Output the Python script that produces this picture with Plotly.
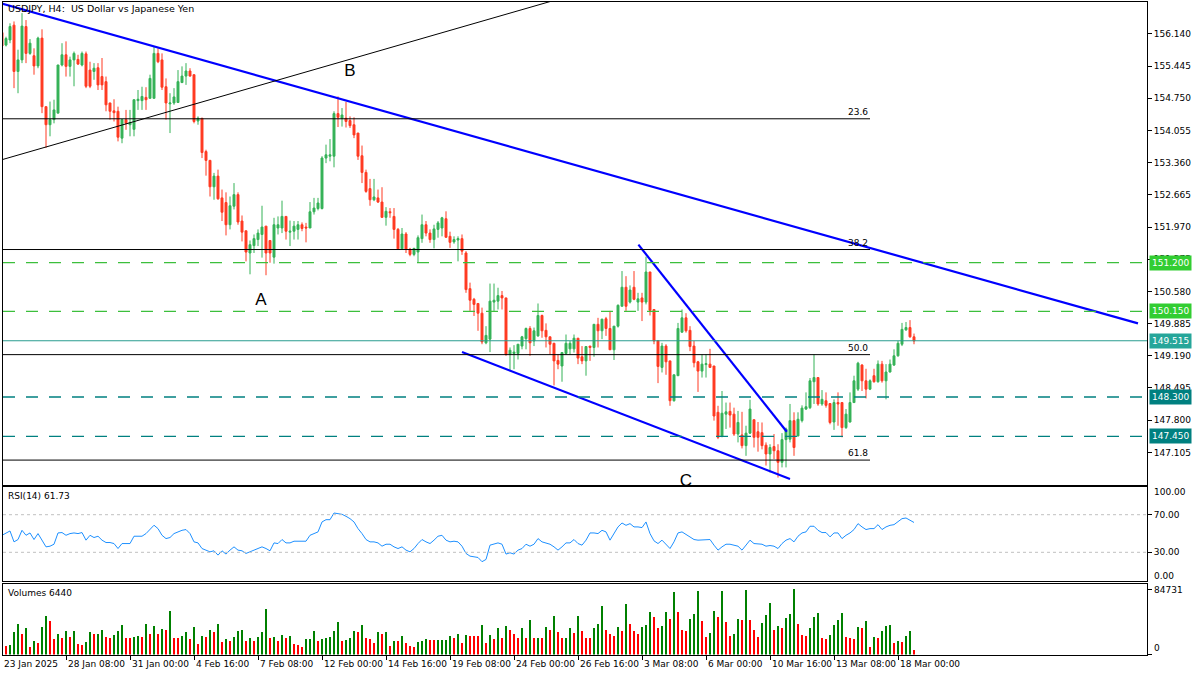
import plotly.graph_objects as go

# ---------------- DATA ----------------
x_tick_labels = ["23 Jan 2025", "28 Jan 08:00", "31 Jan 00:00", "4 Feb 16:00", "7 Feb 08:00",
                 "12 Feb 00:00", "14 Feb 16:00", "19 Feb 08:00", "24 Feb 00:00", "26 Feb 16:00",
                 "3 Mar 08:00", "6 Mar 00:00", "10 Mar 16:00", "13 Mar 08:00", "18 Mar 00:00"]
x_tick_bars = [0, 16, 32, 48, 64, 80, 96, 112, 128, 144, 160, 176, 192, 208, 224]

opens = [
    156.17, 155.90, 156.01, 156.33, 155.33, 155.58, 156.30, 155.72, 155.67, 155.45,
    156.05, 154.57, 154.18, 154.29, 154.43, 155.47, 155.69, 155.44, 155.58, 155.59,
    155.47, 155.71, 155.36, 155.33, 155.41, 155.22, 155.11, 154.65, 154.48, 154.47,
    153.89, 154.29, 154.18, 154.08, 154.70, 154.70, 154.77, 154.75, 154.75, 155.72,
    155.58, 155.00, 154.63, 154.65, 154.66, 155.09, 155.23, 155.34, 155.26, 154.26,
    154.32, 153.60, 153.41, 152.84, 153.07, 152.60, 152.50, 152.02, 152.42, 152.67,
    152.10, 151.89, 151.41, 151.57, 151.70, 151.81, 151.99, 151.68, 151.32, 151.95,
    151.95, 152.20, 151.86, 151.88, 151.92, 152.02, 151.97, 151.95, 152.30, 152.37,
    152.37, 153.46, 153.50, 153.50, 154.42, 154.32, 154.32, 154.27, 154.18, 154.00,
    153.51, 153.15, 152.80, 152.56, 152.60, 152.51, 152.18, 152.30, 152.20, 151.92,
    151.50, 151.82, 151.49, 151.38, 151.43, 151.72, 152.02, 151.84, 151.70, 151.92,
    151.95, 152.15, 151.77, 151.65, 151.69, 151.72, 151.41,
    150.64, 150.41, 150.32, 150.11, 149.47, 149.55, 150.35, 150.37, 150.49, 150.44,
    149.22, 149.24, 149.24, 149.40, 149.56, 149.78, 149.51, 149.62, 150.06, 149.74,
    149.60, 149.46, 149.09, 148.97, 149.24, 149.34, 149.34, 149.57, 149.17, 149.08,
    149.40, 149.37, 149.87, 149.73, 149.99, 149.78, 149.32, 149.83, 150.26, 150.67,
    150.35, 150.67, 150.35, 150.44, 150.35, 151.00, 150.19, 149.52, 148.94, 149.40,
    149.08, 148.22, 148.76, 149.70, 150.01, 149.74, 149.40, 149.06,
    148.86, 149.00, 149.01, 148.97, 147.97, 147.45, 147.93, 147.99, 147.93, 147.50,
    147.48, 147.25, 147.52, 147.81, 147.55, 147.53, 147.26, 147.07, 147.23, 147.14,
    146.89, 147.38, 147.39, 147.79, 147.46, 147.79, 148.04, 148.07, 148.63, 148.72,
    148.15, 148.22, 148.16, 147.76, 148.18, 148.18, 147.64, 147.76, 148.18, 148.47,
    148.99, 148.65, 148.47, 148.76, 148.63, 149.01, 148.65, 148.84, 148.99, 149.19,
    149.44, 149.75, 149.80, 149.60]

highs = [
    156.20, 156.08, 156.37, 156.41, 155.80, 156.59, 156.44, 156.03, 155.83, 156.08,
    156.24, 154.57, 154.68, 154.72, 155.47, 155.94, 155.98, 155.65, 155.76, 155.69,
    155.76, 155.76, 155.54, 155.51, 155.51, 155.62, 155.22, 154.65, 154.73, 154.57,
    154.29, 154.50, 154.50, 154.72, 154.93, 155.00, 154.99, 155.26, 155.87, 155.83,
    155.72, 155.18, 154.86, 154.97, 155.36, 155.44, 155.51, 155.40, 155.26, 154.36,
    154.32, 153.64, 153.42, 153.14, 153.21, 152.78, 152.72, 152.63, 152.92, 152.72,
    152.22, 151.89, 151.68, 151.81, 151.92, 152.43, 151.99, 151.68, 152.17, 152.20,
    152.54, 152.20, 152.11, 152.10, 152.10, 152.07, 152.06, 152.51, 152.60, 152.60,
    153.50, 153.75, 153.87, 154.47, 154.79, 154.54, 154.67, 154.36, 154.34, 154.00,
    153.73, 153.21, 153.01, 153.01, 152.78, 152.83, 152.40, 152.38, 152.38, 151.95,
    151.95, 151.86, 151.52, 151.52, 151.79, 152.24, 152.10, 151.92, 152.02, 152.10,
    152.19, 152.31, 151.87, 151.77, 151.77, 151.81, 151.45,
    150.77, 150.44, 150.32, 150.23, 149.83, 150.75, 150.75, 150.66, 150.59, 150.44,
    149.37, 149.42, 149.44, 149.62, 149.80, 149.83, 149.80, 150.32, 150.08, 149.89,
    149.60, 149.47, 149.22, 149.26, 149.65, 149.51, 149.65, 149.57, 149.40, 149.40,
    149.40, 149.87, 150.01, 149.99, 150.03, 150.16, 149.83, 150.30, 151.02, 150.91,
    150.71, 151.02, 150.55, 150.55, 151.33, 151.00, 150.19, 149.52, 149.47, 149.44,
    149.08, 148.78, 149.90, 150.19, 150.11, 149.83, 149.51, 149.08,
    149.22, 149.22, 149.34, 148.97, 148.11, 148.43, 148.18, 148.18, 148.07, 148.00,
    147.98, 147.68, 148.24, 147.81, 147.76, 147.75, 147.32, 147.28, 147.50, 147.28,
    147.52, 147.64, 148.15, 147.97, 147.97, 148.12, 148.40, 148.71, 149.22, 148.72,
    148.45, 148.40, 148.16, 148.25, 148.40, 148.18, 148.04, 148.40, 148.76, 149.06,
    149.01, 148.91, 148.68, 148.91, 149.09, 149.08, 149.01, 149.11, 149.33, 149.51,
    149.90, 149.92, 149.96, 149.67]

lows = [
    155.72, 155.87, 155.94, 154.97, 154.86, 155.51, 155.51, 155.69, 155.26, 155.40,
    154.43, 153.68, 153.93, 154.21, 154.43, 155.44, 155.22, 155.22, 155.01, 155.47,
    155.44, 154.97, 154.97, 155.15, 154.93, 154.93, 154.47, 154.29, 154.25, 153.82,
    153.78, 154.07, 153.93, 153.93, 154.50, 154.50, 154.50, 154.75, 154.75, 155.51,
    154.93, 154.29, 154.00, 154.61, 154.65, 155.08, 155.04, 155.22, 154.21, 154.18,
    153.46, 153.08, 152.63, 152.56, 152.56, 152.10, 151.79, 151.92, 152.35, 152.02,
    151.66, 151.23, 150.95, 151.41, 151.56, 151.31, 150.93, 151.20, 151.18, 151.81,
    151.84, 151.70, 151.56, 151.70, 151.70, 151.88, 151.64, 151.95, 152.24, 152.33,
    152.35, 153.35, 153.39, 153.26, 154.13, 154.14, 154.12, 154.11, 153.89, 153.42,
    152.92, 152.71, 152.43, 152.53, 152.49, 152.17, 152.00, 152.17, 151.72, 151.49,
    151.49, 151.41, 151.34, 151.34, 151.20, 151.63, 151.77, 151.63, 151.51, 151.74,
    151.77, 151.74, 151.52, 151.61, 151.23, 151.37, 150.55,
    150.16, 150.05, 149.73, 149.44, 149.44, 149.27, 150.16, 150.19, 150.19, 149.19,
    148.86, 148.90, 149.11, 149.33, 149.33, 149.19, 149.40, 149.60, 149.58, 149.37,
    149.22, 148.55, 148.90, 148.63, 149.22, 149.22, 149.26, 149.01, 149.01, 148.76,
    149.08, 149.17, 149.37, 149.55, 149.62, 149.32, 149.10, 149.80, 150.26, 150.16,
    150.32, 150.39, 150.16, 149.94, 150.30, 150.06, 149.44, 148.60, 148.83, 148.78,
    148.11, 148.20, 148.76, 149.69, 149.69, 149.29, 148.94, 148.41,
    148.72, 148.72, 148.94, 147.79, 147.39, 147.43, 147.61, 147.64, 147.46, 147.32,
    147.19, 147.03, 147.50, 147.21, 147.12, 147.17, 146.82, 146.67, 146.96, 146.56,
    146.78, 146.78, 147.32, 147.03, 147.45, 147.75, 148.02, 148.04, 148.15, 148.11,
    148.11, 148.07, 147.71, 147.59, 147.68, 147.43, 147.61, 147.75, 148.17, 148.43,
    148.43, 148.27, 148.45, 148.61, 148.61, 148.61, 148.25, 148.83, 148.97, 149.17,
    149.40, 149.73, 149.58, 149.44]

closes = [
    155.88, 156.04, 156.30, 155.33, 155.58, 156.31, 155.72, 155.94, 155.45, 156.05,
    154.57, 154.18, 154.29, 154.50, 155.47, 155.69, 155.44, 155.58, 155.72, 155.49,
    155.72, 155.01, 155.01, 155.40, 155.04, 155.04, 154.61, 154.47, 154.44, 153.91,
    154.29, 154.21, 154.23, 154.72, 154.73, 154.79, 154.72, 155.18, 155.72, 155.54,
    154.99, 154.65, 154.65, 154.78, 155.11, 155.23, 155.34, 155.23, 154.25, 154.32,
    153.58, 153.41, 152.84, 153.07, 152.58, 152.29, 152.02, 152.43, 152.67, 152.08,
    151.86, 151.43, 151.59, 151.72, 151.84, 151.97, 151.41, 151.41, 152.02, 152.02,
    152.20, 151.88, 151.88, 151.99, 152.02, 151.94, 151.95, 152.30, 152.38, 152.49,
    153.46, 153.53, 153.53, 154.42, 154.34, 154.39, 154.25, 154.16, 153.96, 153.50,
    153.15, 152.74, 152.56, 152.62, 152.51, 152.18, 152.31, 152.28, 151.92, 151.50,
    151.82, 151.49, 151.38, 151.51, 151.74, 152.02, 151.84, 151.70, 151.93, 152.06,
    152.17, 151.75, 151.64, 151.70, 151.72, 151.45, 150.62,
    150.39, 150.30, 150.11, 149.49, 149.63, 150.37, 150.39, 150.49, 150.44, 149.22,
    149.31, 149.27, 149.44, 149.60, 149.78, 149.47, 149.73, 150.06, 149.73, 149.60,
    149.44, 149.08, 149.01, 149.26, 149.46, 149.46, 149.57, 149.14, 149.08, 149.39,
    149.37, 149.87, 149.73, 149.98, 149.78, 149.32, 149.83, 150.28, 150.67, 150.26,
    150.61, 150.41, 150.42, 150.35, 151.00, 150.17, 149.51, 148.96, 149.40, 149.06,
    148.22, 148.78, 149.78, 150.01, 149.73, 149.39, 149.04, 148.86,
    149.01, 149.02, 148.94, 147.89, 147.43, 147.95, 147.98, 147.91, 147.50, 147.75,
    147.25, 147.52, 148.04, 147.43, 147.43, 147.25, 147.07, 147.21, 147.14, 146.89,
    147.38, 147.61, 147.79, 147.21, 147.82, 148.06, 148.09, 148.65, 148.72, 148.15,
    148.25, 148.12, 147.75, 148.18, 148.15, 147.64, 147.93, 148.18, 148.65, 149.03,
    148.65, 148.47, 148.65, 148.63, 149.01, 148.65, 148.84, 149.01, 149.19, 149.46,
    149.76, 149.80, 149.60, 149.51]

rsi_values = [
    48.1, 50.6, 52.7, 41.1, 43.6, 53.4, 48.1, 50.6, 43.6, 49.9,
    42.9, 35.8, 36.5, 38.6, 50.6, 51.0, 48.1, 49.9, 50.6, 49.9,
    51.0, 42.9, 48.1, 45.7, 47.1, 42.9, 40.4, 40.4, 39.3, 34.0,
    39.3, 39.3, 39.3, 47.1, 47.1, 47.1, 49.9, 54.2, 58.8, 55.2,
    48.1, 44.6, 45.7, 49.9, 51.7, 53.4, 54.2, 49.9, 41.1, 40.0,
    34.0, 32.3, 30.5, 31.6, 27.0, 31.6, 28.1, 32.3, 35.8, 32.3,
    31.6, 28.8, 30.5, 32.3, 34.0, 35.8, 34.0, 31.6, 40.0, 39.3,
    43.6, 40.0, 40.0, 41.8, 41.8, 41.8, 41.8, 48.1, 49.9, 51.7,
    62.3, 64.7, 64.7, 71.8, 71.1, 70.4, 68.3, 65.8, 62.3, 55.2,
    49.9, 43.6, 41.1, 41.1, 40.0, 36.5, 38.6, 38.6, 35.8, 34.0,
    35.8, 32.3, 30.5, 34.0, 39.3, 43.6, 41.1, 39.3, 42.9, 47.1,
    48.1, 42.9, 41.1, 41.8, 41.1, 36.5, 28.8, 25.9, 25.2, 24.5,
    20.0, 22.4, 37.6, 38.6, 40.0, 38.6, 28.1, 29.5, 28.1, 32.3,
    34.0, 38.6, 36.5, 38.6, 44.6, 41.1, 40.0, 38.6, 35.8, 32.3,
    35.8, 40.0, 40.0, 43.6, 39.3, 37.6, 42.9, 50.6, 50.6, 49.9,
    53.4, 51.7, 42.9, 49.9, 57.0, 61.2, 58.7, 60.5, 57.0, 57.0,
    56.3, 62.3, 49.9, 42.2, 39.3, 42.9, 38.6, 34.0, 41.1, 50.6,
    51.7, 49.2, 46.4, 43.6, 42.9, 42.9, 42.9, 43.6, 37.6, 32.3,
    35.8, 38.6, 38.6, 37.6, 36.5, 32.3, 37.6, 42.9, 39.3, 38.6,
    38.6, 36.5, 37.2, 36.5, 34.0, 39.3, 42.9, 44.6, 41.1, 47.1,
    50.6, 51.7, 57.7, 57.7, 53.4, 51.0, 51.0, 46.4, 50.6, 50.6,
    44.6, 48.1, 50.6, 54.2, 60.5, 57.0, 54.2, 55.2, 55.2, 59.4,
    54.2, 57.0, 58.7, 59.4, 62.3, 65.8, 66.5, 64.0, 61.73]

volumes_k = [
    15.0, 10.9, 12.0, 28.7, 40.0, 26.0, 34.0, 9.5, 18.0, 15.0,
    35.6, 49.5, 43.0, 19.5, 26.0, 21.0, 31.0, 23.0, 31.0, 13.0,
    12.6, 15.6, 28.7, 26.0, 27.0, 32.0, 22.6, 21.0, 25.6, 30.0,
    37.8, 21.0, 20.8, 22.6, 24.0, 23.0, 40.0, 26.0, 37.0, 26.0,
    33.0, 31.7, 56.0, 21.0, 20.8, 23.5, 28.7, 19.5, 35.6, 13.0,
    23.5, 22.8, 31.7, 28.7, 40.0, 15.6, 19.5, 18.0, 22.6, 31.0,
    31.7, 17.0, 21.0, 17.0, 22.6, 28.7, 59.0, 21.0, 22.6, 17.0,
    24.8, 21.0, 24.3, 14.0, 11.7, 9.5, 19.5, 19.6, 30.0, 18.0,
    19.5, 21.0, 22.6, 30.0, 41.7, 17.0, 18.7, 21.0, 30.0, 28.7,
    37.8, 21.0, 19.5, 14.3, 28.7, 26.0, 28.7, 10.9, 18.0, 17.8,
    24.0, 15.0, 10.9, 9.5, 15.6, 18.0, 19.5, 19.0, 18.5, 18.7,
    19.0, 19.2, 24.0, 21.0, 26.0, 14.3, 24.8, 24.6, 24.4, 24.2,
    37.8, 14.3, 24.8, 19.5, 34.3, 21.0, 36.5, 31.7, 26.0, 21.0,
    34.3, 21.0, 44.3, 21.0, 21.2, 21.0, 35.6, 31.7, 49.5, 29.0,
    21.0, 21.2, 34.3, 27.8, 49.5, 30.0, 21.0, 20.8, 34.0, 40.0,
    62.6, 31.3, 26.0, 23.5, 35.2, 30.0, 65.0, 39.0, 30.0, 26.0,
    35.2, 37.8, 54.7, 48.2, 33.9, 36.5, 54.7, 45.6, 80.8, 54.7,
    31.3, 30.0, 45.6, 52.1, 82.0, 43.0, 22.6, 27.4, 56.0, 48.2,
    82.0, 41.7, 23.9, 26.0, 45.6, 45.0, 83.4, 44.3, 31.3, 22.2,
    40.4, 50.8, 66.5, 31.3, 36.5, 33.9, 46.9, 52.1, 84.731, 39.0,
    24.8, 23.5, 33.9, 48.2, 53.4, 20.9, 19.6, 24.8, 37.8, 44.3,
    53.4, 22.2, 20.9, 19.6, 35.2, 33.9, 43.0, 9.1, 22.2, 20.9,
    30.0, 36.5, 37.8, 14.3, 16.9, 15.6, 23.5, 30.0, 6.44]

price_ticks = [156.140, 155.445, 154.750, 154.055, 153.360, 152.665, 151.970,
               151.275, 150.580, 149.885, 149.190, 148.495, 147.800, 147.105]

fib_levels = [154.308, 151.485, 149.215, 146.938]
fib_names = ["23.6", "38.2", "50.0", "61.8"]
fib_end_bar = 217

green_levels = [151.200, 150.150]
teal_levels = [148.300, 147.450]
last_price = 149.515

# trend lines as (bar index, price) anchor pairs
trend_main_bars, trend_main_prices = [0, 284], [156.795, 149.89]
trend_thin_bars, trend_thin_prices = [0, 140], [153.425, 156.914]
wedge_low_bars, wedge_low_prices = [115, 197], [149.27, 146.53]
wedge_up_bars, wedge_up_prices = [159.1, 196.2], [151.59, 147.55]

wave_labels = ["A", "B", "C"]
wave_bars = [64.75, 87, 171]
wave_prices = [150.386, 155.321, 146.48]

rsi_last = 61.73
vol_last = 6440
vol_max = 84731

# ---------------- STYLE / LAYOUT ----------------
W, H = 1200, 675
FONT = "DejaVu Sans"
GREEN = "#35B257"
RED = "#FF3A22"

def py(y):
    return 1 - y / H

def pxp(x):
    return x / W

bars = list(range(len(closes)))
volumes = [v * 1000 for v in volumes_k]
vol_colors = ["#008000" if (i > 0 and volumes[i] > volumes[i - 1]) else "#FF0000"
              for i in range(len(volumes))]

fig = go.Figure()

fig.add_trace(go.Candlestick(
    x=bars, open=opens, high=highs, low=lows, close=closes,
    increasing=dict(line=dict(color=GREEN, width=1), fillcolor=GREEN),
    decreasing=dict(line=dict(color=RED, width=1), fillcolor=RED),
    whiskerwidth=0, hoverinfo="skip", showlegend=False, xaxis="x", yaxis="y"))

for bx, pr, col, wd in [(trend_main_bars, trend_main_prices, "#0000FF", 2.2),
                        (trend_thin_bars, trend_thin_prices, "#000000", 1),
                        (wedge_low_bars, wedge_low_prices, "#0000FF", 2.2),
                        (wedge_up_bars, wedge_up_prices, "#0000FF", 2.2)]:
    fig.add_trace(go.Scatter(x=bx, y=pr, mode="lines", line=dict(color=col, width=wd),
                             hoverinfo="skip", showlegend=False, xaxis="x", yaxis="y"))

fig.add_trace(go.Scatter(x=wave_bars, y=wave_prices, mode="text", text=wave_labels,
                         textfont=dict(family="Liberation Sans", size=17, color="#000000"),
                         cliponaxis=True, hoverinfo="skip", showlegend=False,
                         xaxis="x", yaxis="y"))

fig.add_trace(go.Scatter(x=bars, y=rsi_values, mode="lines",
                         line=dict(color="#1E90FF", width=1), hoverinfo="skip",
                         showlegend=False, xaxis="x2", yaxis="y2"))

fig.add_trace(go.Bar(x=bars, y=volumes, marker=dict(color=vol_colors, line=dict(width=0)),
                     width=0.3, hoverinfo="skip", showlegend=False, xaxis="x3", yaxis="y3"))

shapes = []
x_left, x_right = pxp(3), pxp(1147)
for lv in fib_levels:
    shapes.append(dict(type="line", xref="x", yref="y", x0=0.25, x1=fib_end_bar, y0=lv, y1=lv,
                       line=dict(color="#000000", width=1)))
for lv in green_levels:
    shapes.append(dict(type="line", xref="paper", yref="y", x0=x_left, x1=x_right, y0=lv, y1=lv,
                       line=dict(color="#3CBF3C", width=1.3, dash="12px,11px")))
for lv in teal_levels:
    shapes.append(dict(type="line", xref="paper", yref="y", x0=x_left, x1=x_right, y0=lv, y1=lv,
                       line=dict(color="#008080", width=1.3, dash="12px,11px")))
shapes.append(dict(type="line", xref="paper", yref="y", x0=x_left, x1=x_right,
                   y0=last_price, y1=last_price, line=dict(color="#2A9D8F", width=1)))
for lv in [30, 70]:
    shapes.append(dict(type="line", xref="paper", yref="y2", x0=x_left, x1=x_right, y0=lv, y1=lv,
                       line=dict(color="#C0C0C0", width=1, dash="3px,3px")))

ann = []
small = dict(family=FONT, size=9, color="#000000")
ann.append(dict(text="USDJPY, H4:  US Dollar vs Japanese Yen", xref="paper", yref="paper",
                x=pxp(6), y=py(9), xanchor="left", yanchor="middle", showarrow=False,
                font=dict(family=FONT, size=9.5, color="#000000")))
ann.append(dict(text="RSI(14) %.2f" % rsi_last, xref="paper", yref="paper",
                x=pxp(6), y=py(496), xanchor="left", yanchor="middle", showarrow=False, font=small))
ann.append(dict(text="Volumes %d" % vol_last, xref="paper", yref="paper",
                x=pxp(6), y=py(593), xanchor="left", yanchor="middle", showarrow=False, font=small))
for lv, nm in zip(fib_levels, fib_names):
    ann.append(dict(text=nm, xref="x", yref="y", x=fib_end_bar, y=lv, xanchor="right",
                    yanchor="bottom", yshift=0, showarrow=False, font=small))
for lv, bg in [(green_levels[0], "#32CD32"), (green_levels[1], "#32CD32"),
               (teal_levels[0], "#008080"), (teal_levels[1], "#008080"),
               (last_price, "#26A69A")]:
    ann.append(dict(text="%.3f" % lv, xref="paper", yref="y", x=pxp(1149), y=lv,
                    xanchor="left", yanchor="middle", showarrow=False, bgcolor=bg,
                    borderpad=2, font=dict(family=FONT, size=9, color="#FFFFFF")))
for txt, yy in [("100.00", 492), ("0.00", 576), (str(vol_max), 590), ("0", 648)]:
    ann.append(dict(text=txt, xref="paper", yref="paper", x=pxp(1152), y=py(yy),
                    xanchor="left", yanchor="middle", showarrow=False, font=small))
for b, lab in zip(x_tick_bars, x_tick_labels):
    ann.append(dict(text=lab, xref="paper", yref="paper", x=pxp(2 + 4 * b), y=py(664),
                    xanchor="left", yanchor="middle", showarrow=False, font=small))

dom_x = [pxp(3), pxp(1147)]
xr = [0.25, 286.25]
axis_common = dict(showgrid=False, zeroline=False, showline=True, mirror=True,
                   linecolor="#000000", linewidth=1)

fig.update_layout(
    width=W, height=H, margin=dict(l=0, r=0, t=0, b=0, autoexpand=False),
    paper_bgcolor="#FFFFFF", plot_bgcolor="#FFFFFF",
    font=dict(family=FONT, size=9, color="#000000"),
    showlegend=False, bargap=0, shapes=shapes, annotations=ann,
    xaxis=dict(domain=dom_x, range=xr, anchor="y", showticklabels=False,
               rangeslider=dict(visible=False), **axis_common),
    yaxis=dict(domain=[py(485), py(2)], range=[146.40, 156.83], anchor="x", side="right",
               tickvals=price_ticks, tickformat=".3f", ticks="outside", ticklen=4,
               tickcolor="#000000", tickfont=small, **axis_common),
    xaxis2=dict(domain=dom_x, range=xr, anchor="y2", matches="x", showticklabels=False,
                **axis_common),
    yaxis2=dict(domain=[py(580.5), py(486.5)], range=[0, 100], anchor="x2", side="right",
                tickvals=[30, 70], ticktext=["30.00", "70.00"], ticks="outside", ticklen=4,
                tickcolor="#000000", tickfont=small, **axis_common),
    xaxis3=dict(domain=dom_x, range=xr, anchor="y3", matches="x", showticklabels=False,
                tickvals=x_tick_bars, ticks="outside", ticklen=4, tickcolor="#000000",
                **axis_common),
    yaxis3=dict(domain=[py(654.5), py(583.5)], range=[0, vol_max * 1.088], anchor="x3",
                side="right", tickvals=[0, vol_max], showticklabels=False, ticks="outside",
                ticklen=4, tickcolor="#000000", **axis_common),
)

fig.write_html("out.html", config={"displayModeBar": False, "staticPlot": True},
               post_script="document.body.style.margin='0px';"
                           "document.body.style.padding='0px';"
                           "document.body.style.overflow='hidden';")
